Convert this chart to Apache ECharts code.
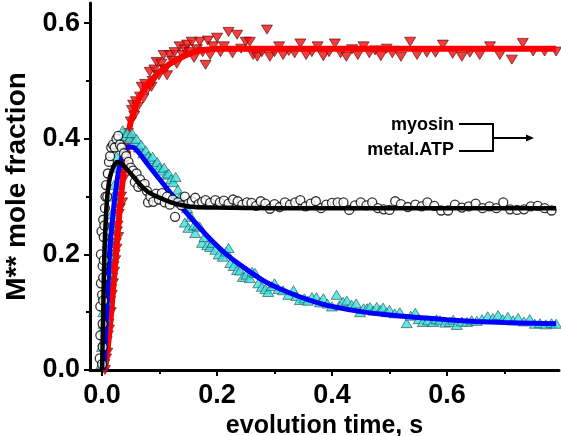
<!DOCTYPE html>
<html><head><meta charset="utf-8">
<script src="https://cdn.jsdelivr.net/npm/echarts@6/dist/echarts.min.js"></script>
<style>html,body{margin:0;padding:0;background:#fff}#c{width:561px;height:436px}</style>
</head><body><div id="c"></div>
<script>
var xTicks = [0, 0.2, 0.4, 0.6];
var xMinorTicks = [0.1, 0.3, 0.5, 0.7];
var yTicks = [0, 0.2, 0.4, 0.6];
var yMinorTicks = [0.1, 0.3, 0.5];

var redPoints = [[0.004,0.01],[0.005,0.0],[0.006,0.03],[0.007,0.02],[0.008,0.05],[0.009,0.03],[0.010,0.06],[0.011,0.08],[0.012,0.07],[0.013,0.1],[0.014,0.12],[0.015,0.1],[0.016,0.14],[0.017,0.13],[0.018,0.16],[0.019,0.15],[0.020,0.18],[0.021,0.17],[0.022,0.2],[0.023,0.19],[0.024,0.22],[0.025,0.21],[0.026,0.24],[0.027,0.25],[0.028,0.23],[0.029,0.27],[0.031,0.28],[0.033,0.30],[0.035,0.29],[0.037,0.33],[0.039,0.35],[0.041,0.37],[0.043,0.38],[0.045,0.41],[0.047,0.40],[0.050,0.43],[0.052,0.45],[0.054,0.459],[0.056,0.44],[0.059,0.465],[0.062,0.455],[0.066,0.473],[0.069,0.49],[0.072,0.47],[0.075,0.495],[0.079,0.485],[0.083,0.516],[0.086,0.49],[0.088,0.50],[0.091,0.52],[0.095,0.533],[0.099,0.51],[0.103,0.53],[0.107,0.545],[0.110,0.52],[0.113,0.51],[0.118,0.545],[0.122,0.535],[0.126,0.55],[0.130,0.53],[0.135,0.56],[0.140,0.545],[0.144,0.555],[0.148,0.563],[0.152,0.55],[0.156,0.568],[0.160,0.54],[0.165,0.555],[0.170,0.568],[0.175,0.55],[0.180,0.528],[0.184,0.57],[0.188,0.545],[0.193,0.56],[0.200,0.575],[0.206,0.55],[0.212,0.56],[0.220,0.585],[0.227,0.548],[0.235,0.58],[0.242,0.556],[0.250,0.568],[0.257,0.568],[0.263,0.545],[0.270,0.542],[0.278,0.55],[0.287,0.589],[0.292,0.542],[0.300,0.55],[0.308,0.56],[0.315,0.545],[0.325,0.552],[0.335,0.548],[0.345,0.565],[0.355,0.545],[0.365,0.55],[0.375,0.56],[0.385,0.543],[0.395,0.55],[0.405,0.565],[0.415,0.548],[0.425,0.542],[0.435,0.555],[0.445,0.545],[0.455,0.56],[0.465,0.548],[0.475,0.553],[0.485,0.543],[0.495,0.556],[0.505,0.548],[0.520,0.542],[0.536,0.568],[0.548,0.545],[0.565,0.549],[0.580,0.549],[0.593,0.563],[0.610,0.547],[0.626,0.542],[0.640,0.549],[0.657,0.545],[0.675,0.56],[0.692,0.545],[0.713,0.537],[0.732,0.566],[0.750,0.551],[0.770,0.551],[0.790,0.551]];

var redFit = [[0.005,0],[0.010,0.04],[0.015,0.09],[0.020,0.15],[0.025,0.21],[0.030,0.27],[0.035,0.32],[0.040,0.36],[0.045,0.40],[0.050,0.43],[0.060,0.46],[0.070,0.48],[0.080,0.495],[0.090,0.506],[0.100,0.516],[0.120,0.531],[0.140,0.542],[0.160,0.55],[0.180,0.554],[0.200,0.556],[0.300,0.556],[0.500,0.556],[0.790,0.556]];

var cyanPoints = [[-0.001,0.01],[0.000,0.04],[0.001,0.02],[0.001,0.07],[0.002,0.05],[0.002,0.10],[0.003,0.08],[0.003,0.13],[0.004,0.11],[0.005,0.09],[0.005,0.16],[0.006,0.14],[0.007,0.12],[0.007,0.18],[0.008,0.16],[0.009,0.19],[0.010,0.17],[0.010,0.22],[0.011,0.21],[0.012,0.2],[0.013,0.23],[0.015,0.25],[0.017,0.27],[0.019,0.3],[0.021,0.32],[0.023,0.35],[0.025,0.37],[0.027,0.39],[0.030,0.40],[0.033,0.395],[0.036,0.415],[0.040,0.405],[0.044,0.41],[0.048,0.40],[0.052,0.41],[0.056,0.395],[0.060,0.40],[0.064,0.385],[0.068,0.39],[0.072,0.375],[0.076,0.38],[0.080,0.37],[0.084,0.365],[0.088,0.369],[0.092,0.355],[0.096,0.36],[0.100,0.35],[0.104,0.345],[0.108,0.35],[0.112,0.338],[0.116,0.34],[0.120,0.33],[0.124,0.325],[0.128,0.334],[0.132,0.312],[0.136,0.30],[0.140,0.29],[0.144,0.255],[0.148,0.28],[0.150,0.246],[0.155,0.265],[0.160,0.25],[0.162,0.237],[0.166,0.25],[0.170,0.248],[0.174,0.22],[0.178,0.23],[0.183,0.216],[0.188,0.213],[0.192,0.22],[0.197,0.208],[0.203,0.2],[0.210,0.196],[0.216,0.205],[0.220,0.211],[0.223,0.185],[0.229,0.18],[0.235,0.173],[0.240,0.172],[0.245,0.161],[0.251,0.165],[0.257,0.159],[0.261,0.17],[0.266,0.168],[0.272,0.15],[0.278,0.144],[0.284,0.14],[0.289,0.135],[0.295,0.145],[0.300,0.15],[0.307,0.14],[0.315,0.138],[0.324,0.13],[0.333,0.138],[0.338,0.128],[0.344,0.121],[0.352,0.124],[0.358,0.12],[0.365,0.126],[0.373,0.126],[0.379,0.117],[0.385,0.124],[0.392,0.115],[0.400,0.11],[0.408,0.13],[0.413,0.112],[0.419,0.118],[0.426,0.12],[0.434,0.113],[0.442,0.115],[0.449,0.100],[0.455,0.107],[0.461,0.107],[0.466,0.109],[0.472,0.103],[0.478,0.109],[0.484,0.104],[0.489,0.108],[0.495,0.1],[0.500,0.104],[0.509,0.098],[0.518,0.1],[0.530,0.081],[0.537,0.094],[0.545,0.099],[0.551,0.088],[0.558,0.083],[0.567,0.086],[0.576,0.083],[0.582,0.088],[0.588,0.086],[0.597,0.082],[0.605,0.083],[0.611,0.087],[0.617,0.078],[0.626,0.084],[0.635,0.083],[0.643,0.086],[0.652,0.085],[0.661,0.088],[0.671,0.093],[0.680,0.09],[0.689,0.095],[0.697,0.088],[0.706,0.092],[0.715,0.086],[0.724,0.09],[0.734,0.084],[0.744,0.088],[0.753,0.08],[0.762,0.081],[0.772,0.079],[0.782,0.081],[0.790,0.08]];

var blueFit = [[0.003,0],[0.008,0.1],[0.013,0.2],[0.018,0.26],[0.025,0.32],[0.032,0.36],[0.040,0.38],[0.047,0.386],[0.055,0.385],[0.065,0.375],[0.080,0.355],[0.100,0.33],[0.120,0.305],[0.140,0.28],[0.160,0.257],[0.180,0.235],[0.200,0.215],[0.220,0.197],[0.250,0.175],[0.280,0.155],[0.310,0.14],[0.340,0.128],[0.370,0.118],[0.400,0.11],[0.450,0.101],[0.500,0.095],[0.550,0.091],[0.600,0.087],[0.650,0.084],[0.700,0.082],[0.750,0.081],[0.790,0.08]];

var blackPoints = [[-0.004,0.02],[-0.003,0.06],[-0.003,0.11],[-0.002,0.15],[-0.002,0.20],[-0.001,0.24],[0.000,0.01],[0.000,0.13],[0.001,0.04],[0.001,0.08],[0.001,0.18],[0.002,0.12],[0.002,0.16],[0.002,0.26],[0.003,0.19],[0.003,0.23],[0.004,0.25],[0.005,0.28],[0.006,0.30],[0.007,0.32],[0.009,0.30],[0.010,0.34],[0.012,0.36],[0.014,0.37],[0.016,0.385],[0.019,0.39],[0.022,0.385],[0.025,0.40],[0.028,0.405],[0.031,0.39],[0.034,0.385],[0.038,0.375],[0.042,0.37],[0.046,0.36],[0.050,0.35],[0.054,0.345],[0.057,0.325],[0.060,0.34],[0.063,0.317],[0.066,0.33],[0.070,0.32],[0.074,0.322],[0.078,0.31],[0.080,0.29],[0.084,0.30],[0.089,0.291],[0.094,0.305],[0.099,0.295],[0.104,0.306],[0.109,0.29],[0.113,0.30],[0.118,0.286],[0.123,0.295],[0.127,0.265],[0.132,0.29],[0.138,0.285],[0.144,0.30],[0.150,0.288],[0.156,0.292],[0.162,0.298],[0.168,0.287],[0.174,0.291],[0.180,0.294],[0.188,0.289],[0.197,0.294],[0.205,0.29],[0.212,0.293],[0.220,0.288],[0.228,0.295],[0.236,0.292],[0.244,0.286],[0.252,0.29],[0.260,0.289],[0.268,0.284],[0.276,0.292],[0.284,0.288],[0.292,0.279],[0.300,0.287],[0.309,0.282],[0.318,0.29],[0.327,0.286],[0.336,0.29],[0.345,0.294],[0.354,0.283],[0.363,0.288],[0.372,0.292],[0.381,0.28],[0.390,0.286],[0.400,0.289],[0.410,0.29],[0.420,0.29],[0.430,0.277],[0.440,0.285],[0.450,0.29],[0.460,0.285],[0.470,0.29],[0.480,0.28],[0.490,0.278],[0.500,0.277],[0.510,0.292],[0.520,0.287],[0.532,0.282],[0.545,0.286],[0.556,0.283],[0.566,0.29],[0.578,0.284],[0.590,0.276],[0.602,0.276],[0.614,0.286],[0.626,0.281],[0.638,0.283],[0.650,0.288],[0.662,0.28],[0.674,0.283],[0.686,0.28],[0.698,0.29],[0.710,0.278],[0.722,0.277],[0.734,0.278],[0.746,0.283],[0.758,0.284],[0.770,0.28],[0.782,0.276]];

var blackFit = [[0.000,0],[0.002,0.1],[0.004,0.2],[0.007,0.27],[0.010,0.31],[0.014,0.335],[0.020,0.352],[0.027,0.36],[0.035,0.356],[0.045,0.345],[0.055,0.334],[0.065,0.322],[0.080,0.308],[0.100,0.298],[0.120,0.29],[0.140,0.285],[0.160,0.282],[0.200,0.281],[0.300,0.28],[0.790,0.28]];

var FONT = "'Liberation Sans', Arial, sans-serif";
var chart = echarts.init(document.getElementById('c'));
var xMin = -0.021, xMax = 0.795, yMin = 0, yMax = 0.635;
function fmt(v){ return v.toFixed(1); }
var option = {
  animation: false,
  backgroundColor: '#fff',
  grid: {left: 90, right: 2, top: 3, bottom: 66, containLabel: false, outerBoundsMode: 'none'},
  xAxis: [{
    type: 'value', min: xMin, max: xMax,
    name: 'evolution time, s', nameLocation: 'middle', nameGap: 38,
    nameTextStyle: {fontSize: 25, fontWeight: 'bold', color: '#000', fontFamily: FONT},
    axisLine: {show: true, onZero: false, lineStyle: {color: '#000', width: 3}},
    axisTick: {show: true, length: 6, lineStyle: {color: '#000', width: 2}, customValues: xTicks},
    axisLabel: {show: true, customValues: xTicks, formatter: fmt, fontSize: 27, fontWeight: 'bold', color: '#000', fontFamily: FONT, margin: 12},
    splitLine: {show: false}
  }, {
    type: 'value', min: xMin, max: xMax, position: 'bottom',
    axisLine: {show: false, onZero: false},
    axisTick: {show: true, length: 4, lineStyle: {color: '#000', width: 2}, customValues: xMinorTicks},
    axisLabel: {show: false}, splitLine: {show: false}
  }],
  yAxis: [{
    type: 'value', min: yMin, max: yMax,
    name: 'M** mole fraction', nameLocation: 'middle', nameGap: 55,
    nameTextStyle: {fontSize: 28, fontWeight: 'bold', color: '#000', fontFamily: FONT},
    axisLine: {show: true, onZero: false, lineStyle: {color: '#000', width: 3}},
    axisTick: {show: true, length: 6, lineStyle: {color: '#000', width: 2}, customValues: yTicks},
    axisLabel: {show: true, customValues: yTicks, formatter: fmt, fontSize: 27, fontWeight: 'bold', color: '#000', fontFamily: FONT, margin: 10},
    splitLine: {show: false}
  }, {
    type: 'value', min: yMin, max: yMax, position: 'left',
    axisLine: {show: false, onZero: false},
    axisTick: {show: true, length: 4, lineStyle: {color: '#000', width: 2}, customValues: yMinorTicks},
    axisLabel: {show: false}, splitLine: {show: false}
  }],
  series: [
    {type: 'scatter', data: redPoints, symbol: 'triangle', symbolRotate: 180, symbolSize: [11, 9],
     itemStyle: {color: '#ee1010', borderColor: '#5a0000', borderWidth: 0.8}, z: 2},
    {type: 'line', data: redFit, showSymbol: false, symbol: 'none', smooth: 0.3,
     lineStyle: {color: '#ff0000', width: 6}, z: 3},
    {type: 'scatter', data: cyanPoints, symbol: 'triangle', symbolSize: [11, 9],
     itemStyle: {color: '#3fe0e0', borderColor: '#1f5050', borderWidth: 0.8}, z: 4},
    {type: 'line', data: blueFit, showSymbol: false, symbol: 'none', smooth: 0.3,
     lineStyle: {color: '#0000ff', width: 5}, z: 5},
    {type: 'scatter', data: blackPoints, symbol: 'circle', symbolSize: 9,
     itemStyle: {color: '#ffffff', borderColor: '#000', borderWidth: 1.3}, z: 6},
    {type: 'line', data: blackFit, showSymbol: false, symbol: 'none', smooth: 0.3,
     lineStyle: {color: '#000', width: 4.5}, z: 7}
  ],
  graphic: [
    {type: 'text', x: 454, y: 125, style: {text: 'myosin', align: 'right', verticalAlign: 'middle', font: "bold 18px 'Liberation Sans', Arial, sans-serif", fill: '#000'}},
    {type: 'text', x: 454, y: 150, style: {text: 'metal.ATP', align: 'right', verticalAlign: 'middle', font: "bold 18px 'Liberation Sans', Arial, sans-serif", fill: '#000'}},
    {type: 'polyline', shape: {points: [[459,124],[493,124],[493,151],[459,151]]}, style: {stroke: '#000', lineWidth: 2, fill: null}},
    {type: 'line', shape: {x1: 493, y1: 138, x2: 528, y2: 138}, style: {stroke: '#000', lineWidth: 2}},
    {type: 'polygon', shape: {points: [[526,134.5],[534,138],[526,141.5]]}, style: {fill: '#000'}}
  ]
};
chart.setOption(option);
</script>
</body></html>
